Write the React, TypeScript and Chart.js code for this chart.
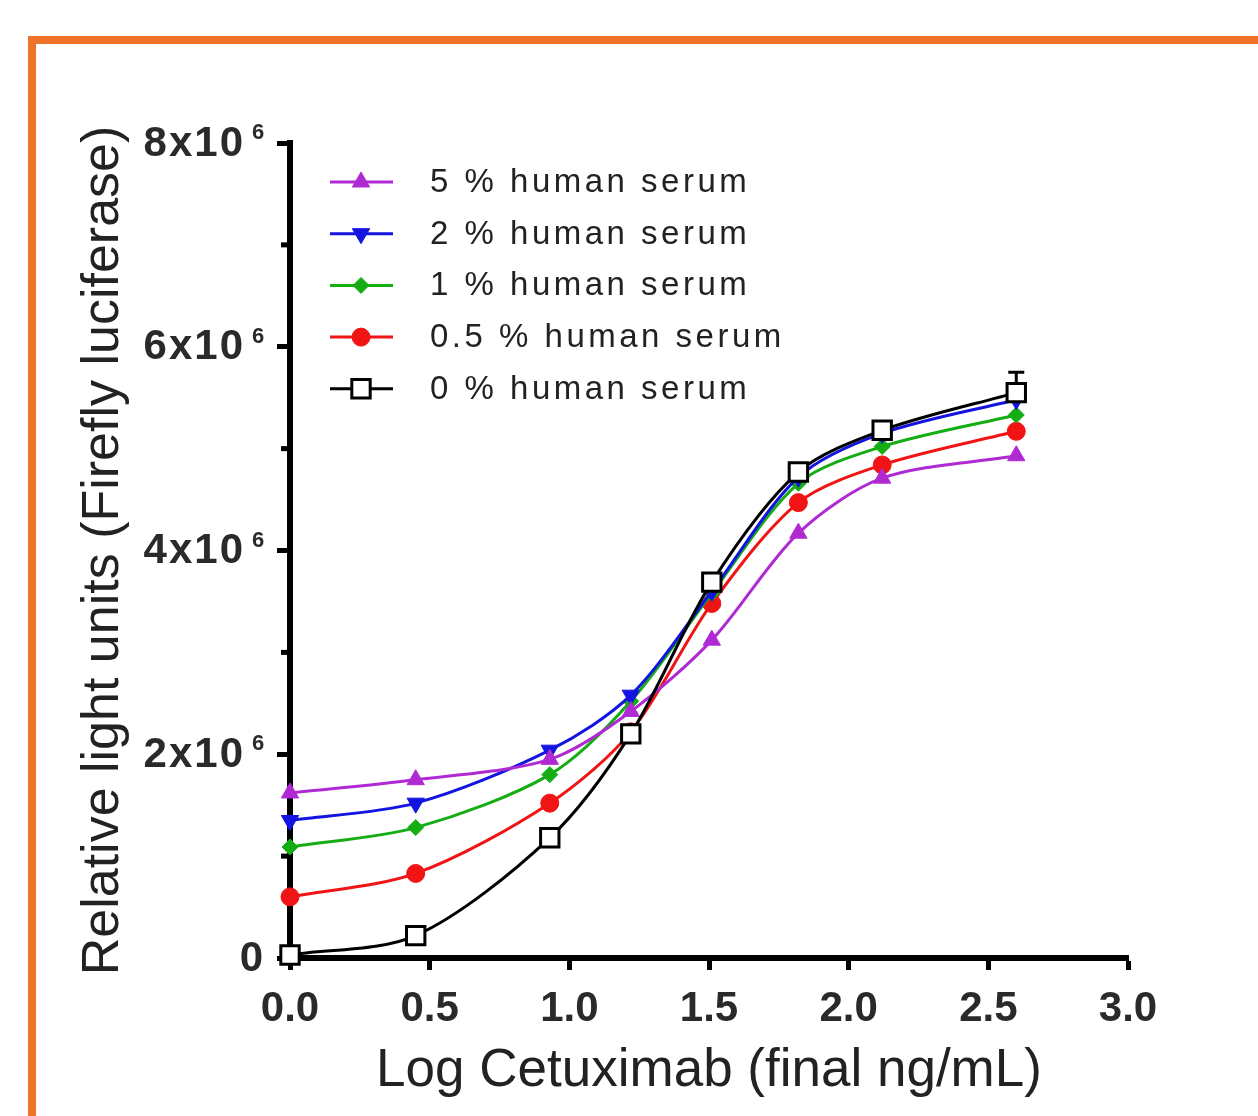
import React, { useEffect, useRef } from 'react';
import { Chart, registerables } from 'chart.js';

Chart.register(...registerables);

// ---- data ----
const logDose = [0, 0.45, 0.93, 1.22, 1.51, 1.82, 2.12, 2.6];
const serum5 = [1.62e6, 1.75e6, 1.95e6, 2.42e6, 3.12e6, 4.17e6, 4.71e6, 4.93e6];
const serum2 = [1.35e6, 1.52e6, 2.04e6, 2.58e6, 3.6e6, 4.72e6, 5.15e6, 5.48e6];
const serum1 = [1.09e6, 1.28e6, 1.8e6, 2.52e6, 3.58e6, 4.66e6, 5.02e6, 5.33e6];
const serum05 = [0.6e6, 0.83e6, 1.52e6, 2.22e6, 3.48e6, 4.47e6, 4.84e6, 5.17e6];
const serum0 = [0.03e6, 0.22e6, 1.18e6, 2.2e6, 3.69e6, 4.77e6, 5.18e6, 5.55e6];
const serum0ErrorIndex = 7;
const serum0Error = 0.2e6;

const seriesLabels = [
  '5 % human serum',
  '2 % human serum',
  '1 % human serum',
  '0.5 % human serum',
  '0 % human serum',
];
const yMajorTicks = [0, 2e6, 4e6, 6e6, 8e6];
const yMajorLabels = ['0', '2x10', '4x10', '6x10', '8x10'];
const yMinorTicks = [1e6, 3e6, 5e6, 7e6];
const xTitle = 'Log Cetuximab (final ng/mL)';
const yTitle = 'Relative light units (Firefly luciferase)';

const FONT = '"Liberation Sans", Arial, Helvetica, sans-serif';
const COLORS = ['#b02ad4', '#1414e0', '#14ae14', '#f01414', '#000000'];

type Marker = { style: string; radius: number; rotation: number; fill: string; border: number };
const MARKERS: Marker[] = [
  { style: 'triangle', radius: 10, rotation: 0, fill: COLORS[0], border: 1 },
  { style: 'triangle', radius: 10, rotation: 180, fill: COLORS[1], border: 1 },
  { style: 'rectRot', radius: 8, rotation: 0, fill: COLORS[2], border: 1 },
  { style: 'circle', radius: 9, rotation: 0, fill: COLORS[3], border: 1 },
  { style: 'rect', radius: 13, rotation: 0, fill: '#ffffff', border: 3 },
];

function drawMarker(ctx: CanvasRenderingContext2D, m: Marker, color: string, x: number, y: number) {
  ctx.save();
  ctx.translate(x, y);
  ctx.rotate((m.rotation * Math.PI) / 180);
  ctx.beginPath();
  const r = m.radius;
  if (m.style === 'triangle') {
    for (let k = 0; k < 3; k++) {
      const a = (k * 2 * Math.PI) / 3;
      const px = Math.sin(a) * r;
      const py = -Math.cos(a) * r;
      if (k === 0) ctx.moveTo(px, py);
      else ctx.lineTo(px, py);
    }
    ctx.closePath();
  } else if (m.style === 'rectRot') {
    ctx.moveTo(0, -r);
    ctx.lineTo(r, 0);
    ctx.lineTo(0, r);
    ctx.lineTo(-r, 0);
    ctx.closePath();
  } else if (m.style === 'circle') {
    ctx.arc(0, 0, r, 0, Math.PI * 2);
  } else {
    const s = r * Math.SQRT1_2;
    ctx.rect(-s, -s, 2 * s, 2 * s);
  }
  ctx.fillStyle = m.fill;
  ctx.fill();
  ctx.lineWidth = m.border;
  ctx.strokeStyle = color;
  ctx.stroke();
  ctx.restore();
}

const decorPlugin = {
  id: 'decor',
  beforeDatasetsDraw(chart: any) {
    const { ctx, scales } = chart;
    const x = scales.x;
    const y = scales.y;
    // error bar on the 0 % series
    const px = x.getPixelForValue(logDose[serum0ErrorIndex]);
    const py = y.getPixelForValue(serum0[serum0ErrorIndex]);
    const pTop = y.getPixelForValue(serum0[serum0ErrorIndex] + serum0Error);
    ctx.save();
    ctx.strokeStyle = '#000';
    ctx.lineWidth = 3;
    ctx.beginPath();
    ctx.moveTo(px, py);
    ctx.lineTo(px, pTop);
    ctx.moveTo(px - 8, pTop);
    ctx.lineTo(px + 8, pTop);
    ctx.stroke();
    ctx.restore();
  },
  afterDraw(chart: any) {
    const { ctx, chartArea, scales } = chart;
    const y = scales.y;
    ctx.save();
    // minor ticks
    ctx.fillStyle = '#000';
    for (const v of yMinorTicks) {
      const py = y.getPixelForValue(v);
      ctx.fillRect(chartArea.left - 9, py - 2.5, 7, 5);
    }
    // y tick labels with superscript exponent
    ctx.fillStyle = '#2a2a2a';
    ctx.textBaseline = 'middle';
    yMajorTicks.forEach((v, i) => {
      const py = y.getPixelForValue(v);
      const lab = yMajorLabels[i];
      if (lab === '0') {
        ctx.font = `bold 42px ${FONT}`;
        (ctx as any).letterSpacing = '0px';
        ctx.textAlign = 'right';
        ctx.fillText(lab, chartArea.left - 27, py + 1);
      } else {
        ctx.font = `bold 42px ${FONT}`;
        (ctx as any).letterSpacing = '2px';
        ctx.textAlign = 'right';
        ctx.fillText(lab, chartArea.left - 45, py + 1);
        (ctx as any).letterSpacing = '0px';
        ctx.font = `bold 22px ${FONT}`;
        ctx.textAlign = 'left';
        ctx.textBaseline = 'alphabetic';
        ctx.fillText('6', chartArea.left - 38, py - 4);
        ctx.textBaseline = 'middle';
      }
    });
    // legend inside plot area
    const lx = chartArea.left + 40;
    const ly = chartArea.top + 39;
    const rowH = 51.7;
    chart.data.datasets.forEach((ds: any, i: number) => {
      const cy = ly + i * rowH;
      ctx.strokeStyle = COLORS[i];
      ctx.lineWidth = 3;
      ctx.beginPath();
      ctx.moveTo(lx, cy);
      ctx.lineTo(lx + 63, cy);
      ctx.stroke();
      drawMarker(ctx, MARKERS[i], COLORS[i], lx + 31, cy);
      ctx.fillStyle = '#222';
      ctx.font = `33px ${FONT}`;
      (ctx as any).letterSpacing = '3.5px';
      ctx.textAlign = 'left';
      ctx.textBaseline = 'middle';
      ctx.fillText(ds.label, lx + 100, cy + 1);
    });
    (ctx as any).letterSpacing = '0px';
    ctx.restore();
  },
};

export default function App() {
  const canvasRef = useRef<HTMLCanvasElement | null>(null);

  useEffect(() => {
    const canvas = canvasRef.current;
    if (!canvas) return;
    const seriesValues = [serum5, serum2, serum1, serum05, serum0];
    const datasets = seriesValues.map((vals, i) => ({
      label: seriesLabels[i],
      data: logDose.map((xv, k) => ({ x: xv, y: vals[k] })),
      borderColor: COLORS[i],
      backgroundColor: COLORS[i],
      borderWidth: 3,
      pointStyle: MARKERS[i].style,
      pointRotation: MARKERS[i].rotation,
      pointRadius: MARKERS[i].radius,
      pointHoverRadius: MARKERS[i].radius,
      pointBackgroundColor: MARKERS[i].fill,
      pointBorderColor: COLORS[i],
      pointBorderWidth: MARKERS[i].border,
      tension: 0.3,
      clip: false as any,
      order: i === 4 ? 0 : i + 1,
    }));

    const chart = new Chart(canvas, {
      type: 'line',
      data: { datasets },
      plugins: [decorPlugin],
      options: {
        animation: false,
        responsive: false,
        devicePixelRatio: 1,
        layout: { padding: { left: 0, top: 143, right: 130, bottom: 0 } },
        plugins: { legend: { display: false }, tooltip: { enabled: false } },
        scales: {
          x: {
            type: 'linear',
            min: 0,
            max: 3,
            ticks: {
              stepSize: 0.5,
              autoSkip: false,
              maxRotation: 0,
              callback: (v: any) => Number(v).toFixed(1),
              font: { family: FONT, size: 42, weight: 'bold' },
              color: '#2a2a2a',
              padding: 14,
            },
            grid: { drawOnChartArea: false, drawTicks: true, tickLength: 12, tickWidth: 5, tickColor: '#000' },
            border: { display: true, width: 6, color: '#000' },
            title: {
              display: true,
              text: xTitle,
              font: { family: FONT, size: 53 },
              color: '#222',
              padding: { top: 0, bottom: 13 },
            },
            afterFit: (s: any) => {
              s.height = 158;
            },
          },
          y: {
            type: 'linear',
            min: 0,
            max: 8e6,
            ticks: { stepSize: 1e6, display: false },
            grid: {
              drawOnChartArea: false,
              drawTicks: true,
              tickLength: 13,
              tickWidth: 5,
              tickColor: (c: any) => (c.tick && c.tick.value % 2e6 === 0 ? '#000' : 'rgba(0,0,0,0)'),
            },
            border: { display: true, width: 6, color: '#000' },
            title: {
              display: true,
              text: yTitle,
              font: { family: FONT, size: 52 },
              color: '#222',
              padding: { top: 72, bottom: 0 },
            },
            afterFit: (s: any) => {
              s.width = 290;
            },
          },
        },
      } as any,
    });
    return () => chart.destroy();
  }, []);

  return (
    <div style={{ position: 'fixed', left: 0, top: 0, width: 1258, height: 1116, background: '#fff', overflow: 'hidden' }}>
      <div
        style={{
          position: 'absolute',
          left: 28,
          top: 36,
          right: 0,
          bottom: 0,
          borderTop: '8px solid #ef7328',
          borderLeft: '8px solid #ef7328',
        }}
      />
      <canvas ref={canvasRef} width={1258} height={1116} style={{ position: 'absolute', left: 0, top: 0 }} />
    </div>
  );
}
